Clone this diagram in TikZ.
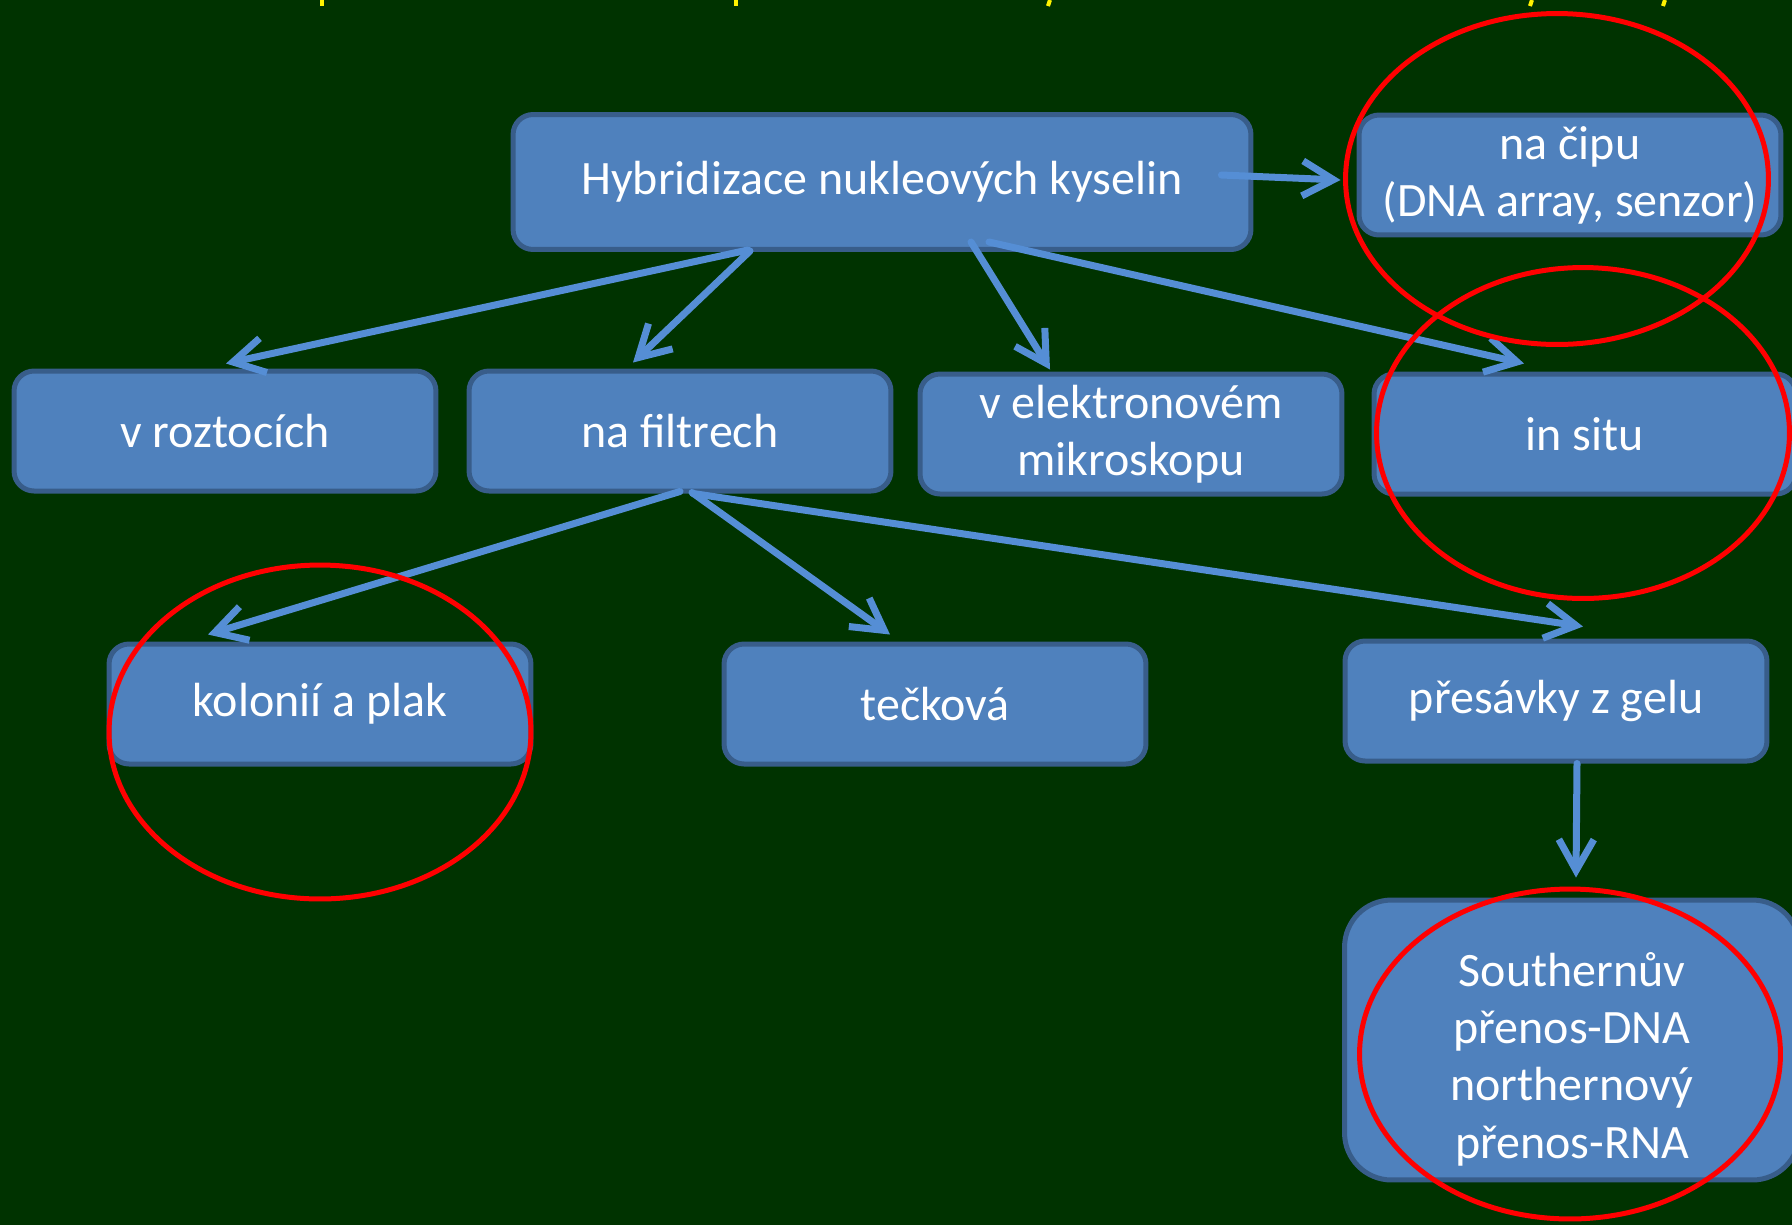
\documentclass[tikz,border=0pt]{standalone}
\usepackage{fontspec}
\setmainfont{Carlito}
\usetikzlibrary{arrows.meta,calc}

\begin{document}
\begin{tikzpicture}[x=0.02cm, y=-0.02cm,
    box/.style={draw=boxedge, fill=boxfill, line width=0.1cm,
                rounded corners=0.4cm, text=white, align=center,
                minimum width=8.44cm, minimum height=2.4cm, inner sep=0pt,
                font=\fontsize{27.3}{32.6}\selectfont},
    link/.style={draw=linkblue, line width=0.14cm, line cap=round,
                 -{Straight Barb[length=0.62cm, width=0.7cm]}},
    ring/.style={draw=red, line width=0.1cm}]
    \definecolor{bggreen}{HTML}{003300}
    \definecolor{boxfill}{HTML}{4F81BD}
    \definecolor{boxedge}{HTML}{385D8A}
    \definecolor{linkblue}{HTML}{558ED5}

    % slide background
    \useasboundingbox (0,0) rectangle (1792,1225);
    \clip (0,0) rectangle (1792,1225);
    \fill[bggreen] (0,0) rectangle (1792,1225);

    % cut-off title (only the tails show)
    \begin{scope}[yellow, line width=0.08cm]
    \draw (322,0) -- (322,6);
    \draw (736,0) -- (736,6);
    \draw (1050,0) -- (1048,6);
    \draw (1532,0) -- (1530,6);
    \draw (1665,0) -- (1663,6);
    \end{scope}

    % the boxes
    \node[box, minimum width=14.76cm, minimum height=2.7cm] (hyb) at (882,182)
         {Hybridizace nukleových kyselin};
    \node[box] (cip)   at (1570,175)  {na čipu\\(DNA array, senzor)};
    \node[box] (rozt)  at (225,431)   {v roztocích};
    \node[box] (filtr) at (680,431)   {na filtrech};
    \node[box] (elmik) at (1131,434)  {v elektronovém\\mikroskopu};
    \node[box] (situ)  at (1585,434)  {in situ};
    \node[box] (kolon) at (320,704)   {kolonií a plak};
    \node[box] (teck)  at (935,704)   {tečková};
    \node[box] (gel)   at (1556,701)  {přesávky z gelu};
    \node[box, minimum width=9.1cm, minimum height=5.6cm,
          rounded corners=0.94cm] (south) at (1572,1040)
         {\rule{0pt}{1.44cm}Southernův\\přenos-DNA\\northernový\\přenos-RNA};

    % arrows from the top box
    \draw[link] ($(hyb.south)+(-134,-2)$) -- ($(rozt.north)+(1,-5)$);
    \draw[link] ($(hyb.south)+(-132,-1)$) -- ($(filtr.north)+(-47,-6)$);
    \draw[link] ($(hyb.south)+(89,-10)$)  -- ($(elmik.north)+(-81,-2)$);
    \draw[link] ($(hyb.south)+(107,-10)$) -- ($(situ.north)+(-61,-8)$);
    \draw[link] ($(hyb.east)+(-32,-7)$)   -- ($(cip.west)+(-16,5)$);

    % arrows from na filtrech
    \draw[link] ($(filtr.south)+(0,-2)$)  -- ($(kolon.north)+(-112,-7)$);
    \draw[link] ($(filtr.south)+(12,-1)$) -- ($(teck.north)+(-45,-7)$);
    \draw[link] ($(filtr.south)+(13,0)$)  -- ($(gel.north)+(27,-12)$);
    \draw[link] ($(gel.south)+(21,0)$)    -- ($(south.north)+(4,-20)$);

    % red marks
    \draw[ring] (1557,179)  ellipse (4.23cm and 3.31cm);
    \draw[ring] (1583,433)  ellipse (4.13cm and 3.31cm);
    \draw[ring] (320,732)   ellipse (4.22cm and 3.34cm);
    \draw[ring] (1570,1054) ellipse (4.21cm and 3.3cm);
\end{tikzpicture}
\end{document}
